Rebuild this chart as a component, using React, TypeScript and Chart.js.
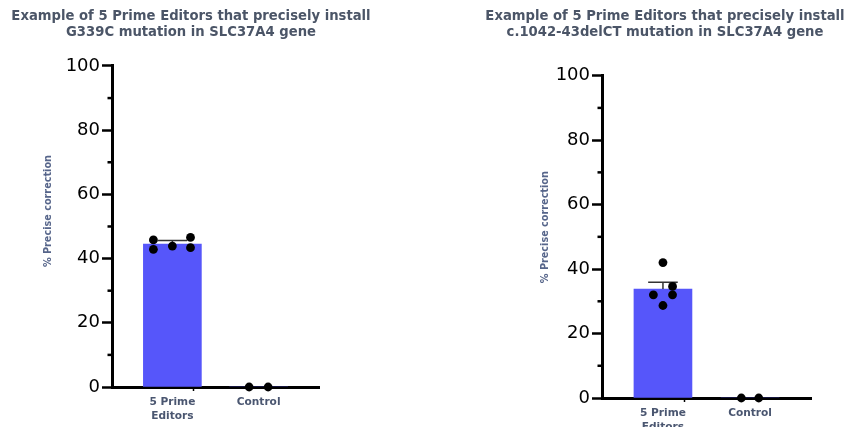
import React, { useEffect, useRef } from 'react';
import { Chart, registerables } from 'chart.js';

Chart.register(...registerables);

// ---------- data ----------
const categories: string[][] = [['5 Prime', 'Editors'], ['Control']];
const categoryX = [1, 2];
const betweenTickX = 1.5;
const yMin = 0;
const yMax = 100;
const yStep = 20;
const minorTickValues = [10, 30, 50, 70, 90];
const yTitle = '% Precise correction';

const titleG339C = ['Example of 5 Prime Editors that precisely install', 'G339C mutation in SLC37A4 gene'];
const titleDelCT = ['Example of 5 Prime Editors that precisely install', 'c.1042-43delCT mutation in SLC37A4 gene'];

// G339C panel
const g339cMeans = [44.5, 0];
const g339cSem = [1.1, 0];
const g339cEditorValues = [45.8, 42.9, 43.9, 46.6, 43.4];
const g339cEditorJitter = [-0.22, -0.22, 0, 0.21, 0.21];
const g339cControlValues = [0, 0];
const g339cControlJitter = [-0.11, 0.11];

// c.1042-43delCT panel
const delctMeans = [33.8, 0];
const delctSem = [2.1, 0];
const delctEditorValues = [42.0, 34.6, 32.0, 32.0, 28.7];
const delctEditorJitter = [0, 0.11, -0.11, 0.11, 0];
const delctControlValues = [0, 0];
const delctControlJitter = [-0.1, 0.1];

// ---------- styles ----------
const BAR_COLOR = '#5656FA';
const TITLE_COLOR = '#4B5567';
const LABEL_COLOR = '#4A5670';
const YTITLE_COLOR = '#56658A';
const FONT = '"DejaVu Sans", "Liberation Sans", Arial, sans-serif';
const CAP_HALF = 0.17;

interface PanelProps {
  title: string[];
  means: number[];
  sem: number[];
  editorValues: number[];
  editorJitter: number[];
  controlValues: number[];
  controlJitter: number[];
  left: number;
  width: number;
  rightSpace: number;
  yWidth: number;
  xHeight: number;
  titlePadBottom: number;
  yTitleOffset: number;
  yTitleValue: number;
}

function Panel(p: PanelProps) {
  const ref = useRef<HTMLCanvasElement | null>(null);

  useEffect(() => {
    if (!ref.current) return;

    const extras = {
      id: 'extras',
      afterDatasetDraw(chart: any, args: any) {
        if (args.index !== 0) return;
        const { ctx } = chart;
        const x = chart.scales.x;
        const y = chart.scales.y;
        ctx.save();
        ctx.strokeStyle = '#333';
        ctx.lineWidth = 1.5;
        p.means.forEach((m, i) => {
          const s = p.sem[i];
          if (!s) return;
          const cx = x.getPixelForValue(categoryX[i]);
          const y0 = y.getPixelForValue(m);
          const y1 = y.getPixelForValue(m + s);
          const xl = x.getPixelForValue(categoryX[i] - CAP_HALF);
          const xr = x.getPixelForValue(categoryX[i] + CAP_HALF);
          ctx.beginPath();
          ctx.moveTo(cx, y0);
          ctx.lineTo(cx, y1);
          ctx.moveTo(xl, y1);
          ctx.lineTo(xr, y1);
          ctx.stroke();
        });
        ctx.restore();
      },
      afterDraw(chart: any) {
        const { ctx, chartArea } = chart;
        const y = chart.scales.y;
        ctx.save();
        ctx.strokeStyle = '#000';
        ctx.lineWidth = 2.5;
        minorTickValues.forEach((v) => {
          const py = y.getPixelForValue(v);
          ctx.beginPath();
          ctx.moveTo(chartArea.left - 4.5, py);
          ctx.lineTo(chartArea.left, py);
          ctx.stroke();
        });
        ctx.translate(chartArea.left - p.yTitleOffset, y.getPixelForValue(p.yTitleValue));
        ctx.rotate(-Math.PI / 2);
        ctx.fillStyle = YTITLE_COLOR;
        ctx.font = `bold 9.7px ${FONT}`;
        ctx.textAlign = 'center';
        ctx.textBaseline = 'middle';
        ctx.fillText(yTitle, 0, 0);
        ctx.restore();
      },
    };

    const chart = new Chart(ref.current, {
      type: 'bar',
      data: {
        datasets: [
          {
            type: 'bar',
            data: p.means.map((m, i) => ({ x: categoryX[i], y: m })),
            backgroundColor: BAR_COLOR,
            borderWidth: 0,
            barThickness: 58,
            order: 2,
          } as any,
          {
            type: 'scatter',
            data: [
              ...p.editorValues.map((v, i) => ({ x: categoryX[0] + p.editorJitter[i], y: v })),
              ...p.controlValues.map((v, i) => ({ x: categoryX[1] + p.controlJitter[i], y: v })),
            ],
            backgroundColor: '#000',
            borderColor: '#000',
            borderWidth: 0,
            pointRadius: 4.4,
            showLine: false,
            clip: false,
            order: 1,
          } as any,
        ],
      },
      options: {
        animation: false,
        responsive: false,
        devicePixelRatio: 1,
        layout: { padding: { top: 8, left: 0, right: 0, bottom: 0 } },
        plugins: {
          legend: { display: false },
          tooltip: { enabled: false },
          title: {
            display: true,
            text: p.title,
            color: TITLE_COLOR,
            font: { family: FONT, weight: 'bold', size: 13.2, lineHeight: 1.26 },
            padding: { top: 0, bottom: p.titlePadBottom },
          },
        },
        scales: {
          x: {
            type: 'linear',
            min: 0.3,
            max: 2.7,
            offset: false,
            afterBuildTicks: (s: any) => {
              s.ticks = [categoryX[0], betweenTickX, categoryX[1]].map((v) => ({ value: v }));
            },
            afterFit: (s: any) => {
              s.height = p.xHeight;
            },
            grid: {
              drawOnChartArea: false,
              drawTicks: true,
              tickLength: 4,
              tickWidth: 1.5,
              tickColor: (c: any) => (c.tick && c.tick.value === betweenTickX ? '#000' : 'rgba(0,0,0,0)'),
            },
            border: { display: true, color: '#000', width: 3 },
            ticks: {
              autoSkip: false,
              maxRotation: 0,
              padding: 4,
              color: LABEL_COLOR,
              font: { family: FONT, weight: 'bold', size: 10.6, lineHeight: 1.32 },
              callback: (v: any) => {
                const i = categoryX.indexOf(Number(v));
                return i >= 0 ? categories[i] : '';
              },
            },
          },
          y: {
            min: yMin,
            max: yMax,
            afterFit: (s: any) => {
              s.width = p.yWidth;
            },
            grid: { drawOnChartArea: false, tickLength: 10, tickWidth: 2.5, tickColor: '#000' },
            border: { display: true, color: '#000', width: 3 },
            ticks: {
              stepSize: yStep,
              padding: 2,
              color: '#000',
              font: { family: FONT, size: 18 },
            },
          },
          rightSpace: {
            type: 'linear',
            position: 'right',
            display: true,
            afterFit: (s: any) => {
              s.width = p.rightSpace;
            },
            grid: { display: false, drawTicks: false },
            border: { display: false },
            ticks: { display: false },
          },
        },
      } as any,
      plugins: [extras as any],
    });

    return () => chart.destroy();
  }, []);

  return (
    <canvas
      ref={ref}
      width={p.width}
      height={427}
      style={{ position: 'absolute', left: p.left, top: 0, width: p.width, height: 427 }}
    />
  );
}

export default function App() {
  return (
    <div style={{ position: 'absolute', left: 0, top: 0, width: 848, height: 427, overflow: 'hidden', background: '#fff' }}>
      <Panel
        title={titleG339C}
        means={g339cMeans}
        sem={g339cSem}
        editorValues={g339cEditorValues}
        editorJitter={g339cEditorJitter}
        controlValues={g339cControlValues}
        controlJitter={g339cControlJitter}
        left={0}
        width={382}
        rightSpace={63}
        yWidth={112}
        xHeight={40}
        titlePadBottom={24.7}
        yTitleOffset={64}
        yTitleValue={54.8}
      />
      <Panel
        title={titleDelCT}
        means={delctMeans}
        sem={delctSem}
        editorValues={delctEditorValues}
        editorJitter={delctEditorJitter}
        controlValues={delctControlValues}
        controlJitter={delctControlJitter}
        left={482}
        width={366}
        rightSpace={37}
        yWidth={120}
        xHeight={29}
        titlePadBottom={34.4}
        yTitleOffset={57}
        yTitleValue={53}
      />
    </div>
  );
}
